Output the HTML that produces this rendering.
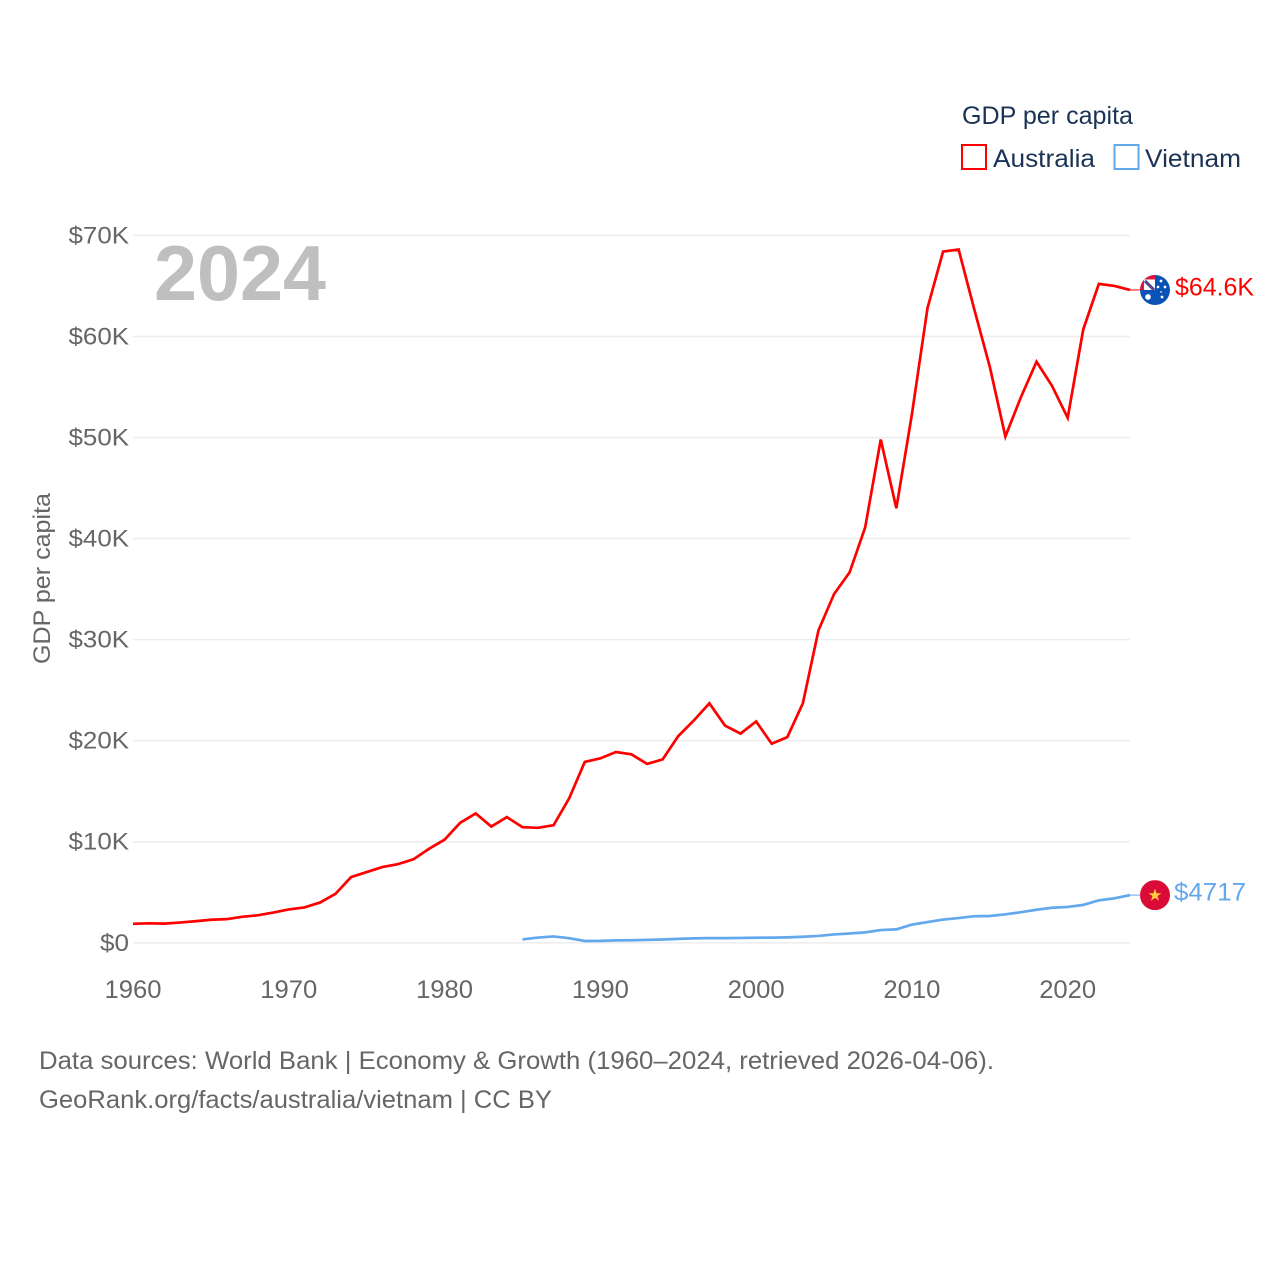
<!DOCTYPE html>
<html lang="en">
<head>
<meta charset="utf-8">
<title>GDP per capita: Australia and Vietnam</title>
<style>
html,body{margin:0;padding:0;background:#fff;}
svg{display:block;font-family:"Liberation Sans",sans-serif;}
</style>
</head>
<body>
<svg id="chart" width="1280" height="1280" viewBox="0 0 1280 1280" xmlns="http://www.w3.org/2000/svg">
  <defs>
    <clipPath id="au-clip"><circle cx="0" cy="0" r="15"/></clipPath>
    <clipPath id="vn-clip"><circle cx="0" cy="0" r="15"/></clipPath>
  </defs>
  <rect width="1280" height="1280" fill="#fff"/>
  <g id="grid"></g>
  <g id="yticks"></g>
  <g id="xticks"></g>
  <text x="154" y="300" font-size="78" font-weight="700" fill="#bfbfbf" textLength="172" lengthAdjust="spacingAndGlyphs">2024</text>
  <text transform="translate(50,664) rotate(-90)" font-size="24.5" fill="#666" textLength="171" lengthAdjust="spacingAndGlyphs">GDP per capita</text>
  <g id="series"></g>
  <g id="au-end">
    <g clip-path="url(#au-clip)">
      <rect x="-15" y="-15" width="30" height="30" fill="#0a52b5"/>
      <rect x="-15" y="-15" width="15" height="15" fill="#e0173c"/>
      <rect x="-11" y="-10.5" width="11" height="10.5" fill="#fff"/>
      <path d="M-10-9L-1 0" stroke="#0a52b5" stroke-width="3"/>
      <path d="M-10-9L-1 0" stroke="#d9223f" stroke-width="1.1"/>
      <circle cx="-7" cy="7" r="2.8" fill="#fff"/>
      <circle cx="6" cy="-9" r="1.4" fill="#fff"/>
      <circle cx="10" cy="-3" r="1.4" fill="#fff"/>
      <circle cx="3" cy="-3" r="1.3" fill="#fff"/>
      <circle cx="7" cy="7" r="1.4" fill="#fff"/>
      <circle cx="6" cy="2" r="0.8" fill="#fff"/>
    </g>
    <text id="au-label" x="20" y="5.5" font-size="25" fill="#ff0000" textLength="79" lengthAdjust="spacingAndGlyphs">$64.6K</text>
  </g>
  <g id="vn-end">
    <g clip-path="url(#vn-clip)">
      <rect x="-15" y="-15" width="30" height="30" fill="#da0b37"/>
      <polygon points="0,-6.5 1.6,-1.9 6.4,-1.9 2.5,0.9 4,5.6 0,2.7 -4,5.6 -2.5,0.9 -6.4,-1.9 -1.6,-1.9" fill="#ffce3a"/>
    </g>
    <text id="vn-label" x="19" y="5.5" font-size="25" fill="#64a8ec" textLength="72" lengthAdjust="spacingAndGlyphs">$4717</text>
  </g>
  <g>
    <text x="962" y="124" font-size="25" fill="#1a3355" textLength="171" lengthAdjust="spacingAndGlyphs">GDP per capita</text>
    <g>
      <rect x="962" y="145" width="24" height="24" fill="none" stroke="#ff0000" stroke-width="2"/>
      <text x="993" y="167" font-size="25" fill="#1a3355" textLength="102" lengthAdjust="spacingAndGlyphs">Australia</text>
    </g>
    <g>
      <rect x="1114.5" y="145" width="24" height="24" fill="none" stroke="#64a8ec" stroke-width="2"/>
      <text x="1145" y="167" font-size="25" fill="#1a3355" textLength="96" lengthAdjust="spacingAndGlyphs">Vietnam</text>
    </g>
  </g>
  <text x="39" y="1069" font-size="25" fill="#666" textLength="955" lengthAdjust="spacingAndGlyphs">Data sources: World Bank | Economy &amp; Growth (1960–2024, retrieved 2026-04-06).</text>
  <text x="39" y="1108" font-size="25" fill="#666" textLength="513" lengthAdjust="spacingAndGlyphs">GeoRank.org/facts/australia/vietnam | CC BY</text>
</svg>
<script>
const australiaStartYear = 1960;
const australiaValues = [1880,1930,1900,2000,2130,2280,2340,2570,2720,2990,3300,3500,3980,4850,6500,7000,7490,7780,8260,9300,10200,11870,12800,11500,12440,11440,11380,11640,14300,17900,18250,18880,18650,17700,18150,20450,22000,23700,21500,20700,21900,19700,20350,23700,30900,34500,36650,41100,49800,43000,52300,62800,68400,68600,62700,57000,50100,54000,57500,55100,51950,60700,65200,65000,64600];
const vietnamStartYear = 1985;
const vietnamValues = [330,520,630,460,180,190,240,250,290,330,390,440,470,460,480,500,510,540,600,680,830,920,1030,1260,1330,1800,2050,2300,2450,2630,2650,2820,3030,3270,3470,3550,3750,4200,4400,4717];
const yTickValues = [0,10000,20000,30000,40000,50000,60000,70000];
const yTickLabels = ["$0","$10K","$20K","$30K","$40K","$50K","$60K","$70K"];
const xTickYears = [1960,1970,1980,1990,2000,2010,2020];

const NS = "http://www.w3.org/2000/svg";
const xMin = 1960, xMax = 2024, yMin = 0, yMax = 70000;
const xLeft = 133, xRight = 1130, yBottom = 942.8, yTop = 235.4;
function xScale(year){ return xLeft + (year - xMin) * (xRight - xLeft) / (xMax - xMin); }
function yScale(v){ return yBottom - (v - yMin) * (yBottom - yTop) / (yMax - yMin); }

const grid = document.getElementById("grid");
const yticks = document.getElementById("yticks");
yTickValues.forEach(function(v, i){
  const line = document.createElementNS(NS, "line");
  
  
  line.setAttribute("x1", xLeft);
  line.setAttribute("x2", xRight);
  line.setAttribute("y1", yScale(v));
  line.setAttribute("y2", yScale(v));
  line.setAttribute("stroke", "#eeeeee");
  line.setAttribute("stroke-width", "1.6");
  grid.appendChild(line);
  const label = yTickLabels[i];
  const t = document.createElementNS(NS, "text");
  
  
  const w = label.length === 2 ? 29 : 60.5;
  t.setAttribute("x", 129 - w);
  t.setAttribute("y", yScale(v) + 8);
  t.setAttribute("font-size", "24.5");
  t.setAttribute("fill", "#666");
  t.setAttribute("textLength", w);
  t.setAttribute("lengthAdjust", "spacingAndGlyphs");
  t.textContent = label;
  yticks.appendChild(t);
});

const xticks = document.getElementById("xticks");
xTickYears.forEach(function(yr){
  const t = document.createElementNS(NS, "text");
  
  
  t.setAttribute("x", xScale(yr) - 28.5);
  t.setAttribute("y", 998);
  t.setAttribute("font-size", "25");
  t.setAttribute("fill", "#666");
  t.setAttribute("textLength", "57");
  t.setAttribute("lengthAdjust", "spacingAndGlyphs");
  t.textContent = yr;
  xticks.appendChild(t);
});

const seriesGroup = document.getElementById("series");
function drawSeries(values, startYear, color){
  const pts = values.map(function(v, i){ return xScale(startYear + i).toFixed(2) + "," + yScale(v).toFixed(2); });
  const p = document.createElementNS(NS, "polyline");
  
  
  p.setAttribute("points", pts.join(" "));
  p.setAttribute("fill", "none");
  p.setAttribute("stroke", color);
  p.setAttribute("stroke-width", "2.7");
  p.setAttribute("stroke-linejoin", "miter");
  seriesGroup.appendChild(p);
  const lastY = yScale(values[values.length - 1]);
  const c = document.createElementNS(NS, "line");
  
  
  c.setAttribute("x1", xRight);
  c.setAttribute("x2", xRight + 12);
  c.setAttribute("y1", lastY);
  c.setAttribute("y2", lastY);
  c.setAttribute("stroke", color);
  c.setAttribute("stroke-width", "1");
  seriesGroup.appendChild(c);
  return lastY;
}
const auY = drawSeries(australiaValues, australiaStartYear, "#ff0000");
const vnY = drawSeries(vietnamValues, vietnamStartYear, "#64a8ec");
document.getElementById("au-end").setAttribute("transform", "translate(1155," + auY + ")");
document.getElementById("vn-end").setAttribute("transform", "translate(1155," + vnY + ")");
</script>
</body>
</html>
